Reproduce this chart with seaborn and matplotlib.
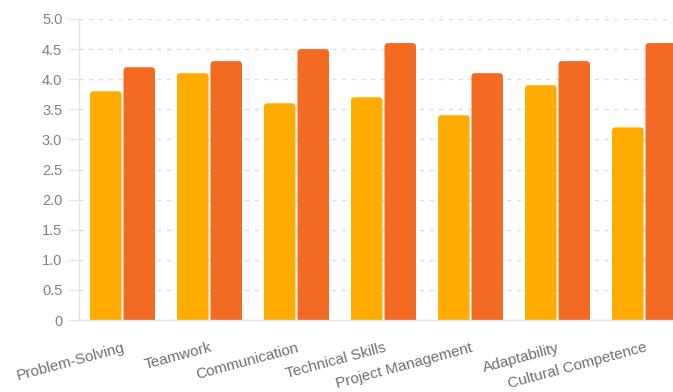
import matplotlib
matplotlib.use("Agg")
import matplotlib.pyplot as plt
import seaborn as sns
import pandas as pd
from matplotlib.patches import FancyBboxPatch
from matplotlib.ticker import FixedLocator

categories = ["Problem-Solving", "Teamwork", "Communication", "Technical Skills",
              "Project Management", "Adaptability", "Cultural Competence"]
series_names = ["Before", "After"]
before_values = [3.8, 4.1, 3.6, 3.7, 3.4, 3.9, 3.2]
after_values = [4.2, 4.3, 4.5, 4.6, 4.1, 4.3, 4.6]
y_ticks = [0, 0.5, 1.0, 1.5, 2.0, 2.5, 3.0, 3.5, 4.0, 4.5, 5.0]
y_tick_labels = ["0", "0.5", "1.0", "1.5", "2.0", "2.5", "3.0", "3.5", "4.0", "4.5", "5.0"]
colors = ["#FFAB00", "#F36B22"]

df = pd.DataFrame({
    "category": categories * 2,
    "series": [series_names[0]] * len(categories) + [series_names[1]] * len(categories),
    "value": before_values + after_values,
})

sns.set_theme(style="white")
plt.rcParams["font.family"] = ["Liberation Sans", "DejaVu Sans"]

W, H = 673, 392
fig = plt.figure(figsize=(W / 100, H / 100), dpi=100)
left_px, right_px, top_px, bottom_px = 79, 688, 19, 320
ax = fig.add_axes([left_px / W, 1 - bottom_px / H, (right_px - left_px) / W, (bottom_px - top_px) / H])

sns.barplot(data=df, x="category", y="value", hue="series", palette=colors,
            width=0.77, gap=0.06, ax=ax, legend=False, errorbar=None, saturation=1)

ax.set_xlim(-0.5, len(categories) - 0.5)
ax.set_ylim(0, 5.0)

# rounded top corners
x_per_px = len(categories) / (right_px - left_px)
y_per_px = 5.0 / (bottom_px - top_px)
aspect = y_per_px / x_per_px
r = 3.5 * x_per_px
for p in list(ax.patches):
    x0, w, h = p.get_x(), p.get_width(), p.get_height()
    fc = p.get_facecolor()
    p.remove()
    fb = FancyBboxPatch((x0, -0.3), w, h + 0.3,
                        boxstyle=f"round,pad=0,rounding_size={r}",
                        mutation_aspect=aspect, facecolor=fc, edgecolor="none",
                        clip_on=True)
    ax.add_patch(fb)

ax.yaxis.set_major_locator(FixedLocator(y_ticks))
ax.set_yticklabels(y_tick_labels)
ax.grid(axis="y", color="#dedede", linestyle=(0, (3, 4)), linewidth=1.0)
ax.set_axisbelow(True)

for s in ["top", "right"]:
    ax.spines[s].set_visible(False)
ax.spines["left"].set_color("#e4e4e4")
ax.spines["bottom"].set_color("#e4e4e4")
ax.spines["left"].set_linewidth(1.0)
ax.spines["bottom"].set_linewidth(1.0)

ax.tick_params(axis="y", left=True, length=8, width=1.0, color="#e4e4e4",
               labelsize=10.5, labelcolor="#808080", pad=4)
ax.tick_params(axis="x", bottom=False, labelsize=11, labelcolor="#707070", pad=9)
for lbl in ax.get_xticklabels():
    lbl.set_rotation(15)
    lbl.set_ha("right")
    lbl.set_rotation_mode("anchor")

ax.set_xlabel("")
ax.set_ylabel("")

fig.savefig("out.png", dpi=100)
